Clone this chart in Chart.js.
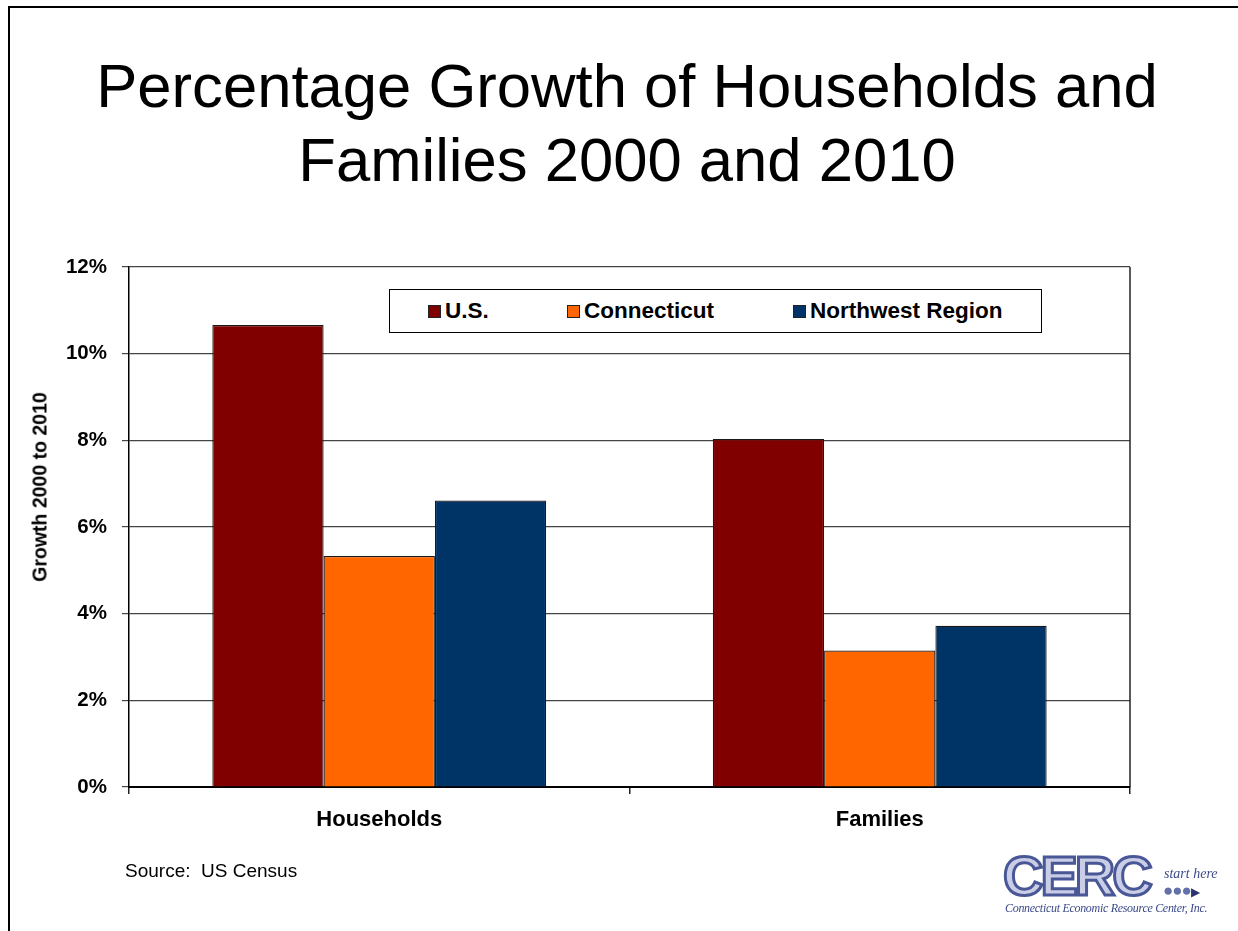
<!DOCTYPE html>
<html>
<head>
    <title>Percentage Growth of Households and Families 2000 and 2010</title>
    <meta charset="UTF-8">
    <script src="https://cdn.jsdelivr.net/npm/chart.js@4"></script>
    <style>
        html, body { margin: 0; padding: 0; background: #fff; overflow: hidden; }
        body { width: 1238px; height: 931px; position: relative; font-family: "Liberation Sans", Arial, sans-serif; }
        .frame { position: absolute; left: 8px; top: 6px; width: 1300px; height: 1000px; border: 2px solid #000; box-sizing: border-box; }
        .title { position: absolute; left: 0; top: 49px; width: 1254px; text-align: center; font-size: 61.6px; line-height: 74px; color: #000; }
        #chartWrap { position: absolute; left: 0; top: 0; width: 1238px; height: 931px; }
        .ytitle { position: absolute; left: 40px; top: 487px; transform: translate(-50%, -50%) rotate(-90deg); white-space: nowrap; font-weight: bold; font-size: 19.5px; }
        #legend { position: absolute; left: 389px; top: 289px; width: 653px; height: 44px; box-sizing: border-box; border: 1px solid #000; background: #fff;
                  display: flex; align-items: center; padding-left: 38px; }
        #legend .item { display: flex; align-items: center; font-weight: bold; font-size: 22.5px; white-space: nowrap; }
        #legend .item:nth-child(1) { width: 139px; }
        #legend .item:nth-child(2) { width: 226px; }
        #legend .box { width: 11px; height: 11px; border: 1px solid #222; margin-right: 4px; }
        .source { position: absolute; left: 125px; top: 860px; font-size: 19px; }
        .logo { position: absolute; left: 1003px; top: 851px; width: 220px; height: 68px; font-family: "Liberation Serif", serif; }
        .logo .cerc { position: absolute; left: 0; top: -8px; font-family: "Liberation Sans", Arial, sans-serif; font-weight: bold; font-size: 56px; letter-spacing: -3px;
                      color: #c9cee6; -webkit-text-stroke: 3px #4a5796; }
        .logo .here { position: absolute; left: 161px; top: 15px; font-style: italic; font-size: 14px; color: #3d4a8a; }
        .logo .dots { position: absolute; left: 160px; top: 31px; font-size: 17px; color: #6470aa; letter-spacing: -1px; line-height: 17px; }
        .logo .full { position: absolute; left: 2px; top: 50px; font-style: italic; font-size: 12px; color: #3d4a8a; white-space: nowrap; letter-spacing: -0.3px; }
    </style>
</head>
<body>
    <div class="frame"></div>
    <div class="title">Percentage Growth of Households and<br>Families 2000 and 2010</div>
    <div id="chartWrap"><canvas id="growthChart"></canvas></div>
    <div class="ytitle">Growth 2000 to 2010</div>
    <div id="legend"></div>
    <div class="source">Source:&nbsp; US Census</div>
    <div class="logo">
        <div class="cerc">CERC</div>
        <div class="here">start here</div>
        <div class="dots">&#9679;&#9679;&#9679;<span style="font-size:12px;color:#2a3570">&#9654;</span></div>
        <div class="full">Connecticut Economic Resource Center, Inc.</div>
    </div>

    <script>
        // data
        const categories = ['Households', 'Families'];
        const seriesNames = ['U.S.', 'Connecticut', 'Northwest Region'];
        const usValues = [10.66, 8.03];
        const ctValues = [5.33, 3.15];
        const nwValues = [6.61, 3.72];
        const seriesColors = ['#800000', '#FF6600', '#003366'];
        const yTicks = [0, 2, 4, 6, 8, 10, 12];

        // right edge of the plot box
        const plotBorder = {
            id: 'plotBorder',
            afterDraw(chart) {
                const a = chart.chartArea, c = chart.ctx;
                c.save();
                c.strokeStyle = '#222';
                c.lineWidth = 1.5;
                c.beginPath();
                c.moveTo(a.right, a.top);
                c.lineTo(a.right, a.bottom);
                c.stroke();
                c.restore();
            }
        };

        const ctx = document.getElementById('growthChart').getContext('2d');
        const chart = new Chart(ctx, {
            type: 'bar',
            data: {
                labels: categories,
                datasets: [usValues, ctValues, nwValues].map((vals, i) => ({
                    label: seriesNames[i],
                    data: vals,
                    backgroundColor: seriesColors[i],
                    borderColor: '#1a1a1a',
                    borderWidth: 1.2,
                    borderSkipped: 'bottom',
                    categoryPercentage: 0.667,
                    barPercentage: 1.0
                }))
            },
            options: {
                responsive: true,
                maintainAspectRatio: false,
                animation: false,
                layout: { padding: { left: 29, right: 108, top: 267, bottom: 84 } },
                plugins: {
                    legend: { display: false },
                    tooltip: { enabled: false }
                },
                scales: {
                    x: {
                        afterFit: s => { s.height = 60; },
                        grid: { display: true, drawOnChartArea: false, offset: true, tickLength: 7, color: '#222', lineWidth: 1.5 },
                        border: { color: '#000', width: 2 },
                        ticks: { color: '#000', padding: 13, font: { family: 'Liberation Sans, Arial', size: 22, weight: 'bold' } }
                    },
                    y: {
                        min: 0,
                        max: 12,
                        afterFit: s => { s.width = 100; },
                        afterBuildTicks: s => { s.ticks = yTicks.map(v => ({ value: v })); },
                        grid: { color: '#444', lineWidth: 1.2, tickLength: 7 },
                        border: { color: '#000', width: 1.5 },
                        ticks: {
                            color: '#000',
                            padding: 15,
                            font: { family: 'Liberation Sans, Arial', size: 20.5, weight: 'bold' },
                            callback: v => v + '%'
                        }
                    }
                }
            },
            plugins: [plotBorder]
        });

        // legend built from the datasets
        const legend = document.getElementById('legend');
        chart.data.datasets.forEach(ds => {
            const item = document.createElement('div');
            item.className = 'item';
            item.innerHTML = '<span class="box" style="background:' + ds.backgroundColor + '"></span>' + ds.label;
            legend.appendChild(item);
        });
    </script>
</body>
</html>
